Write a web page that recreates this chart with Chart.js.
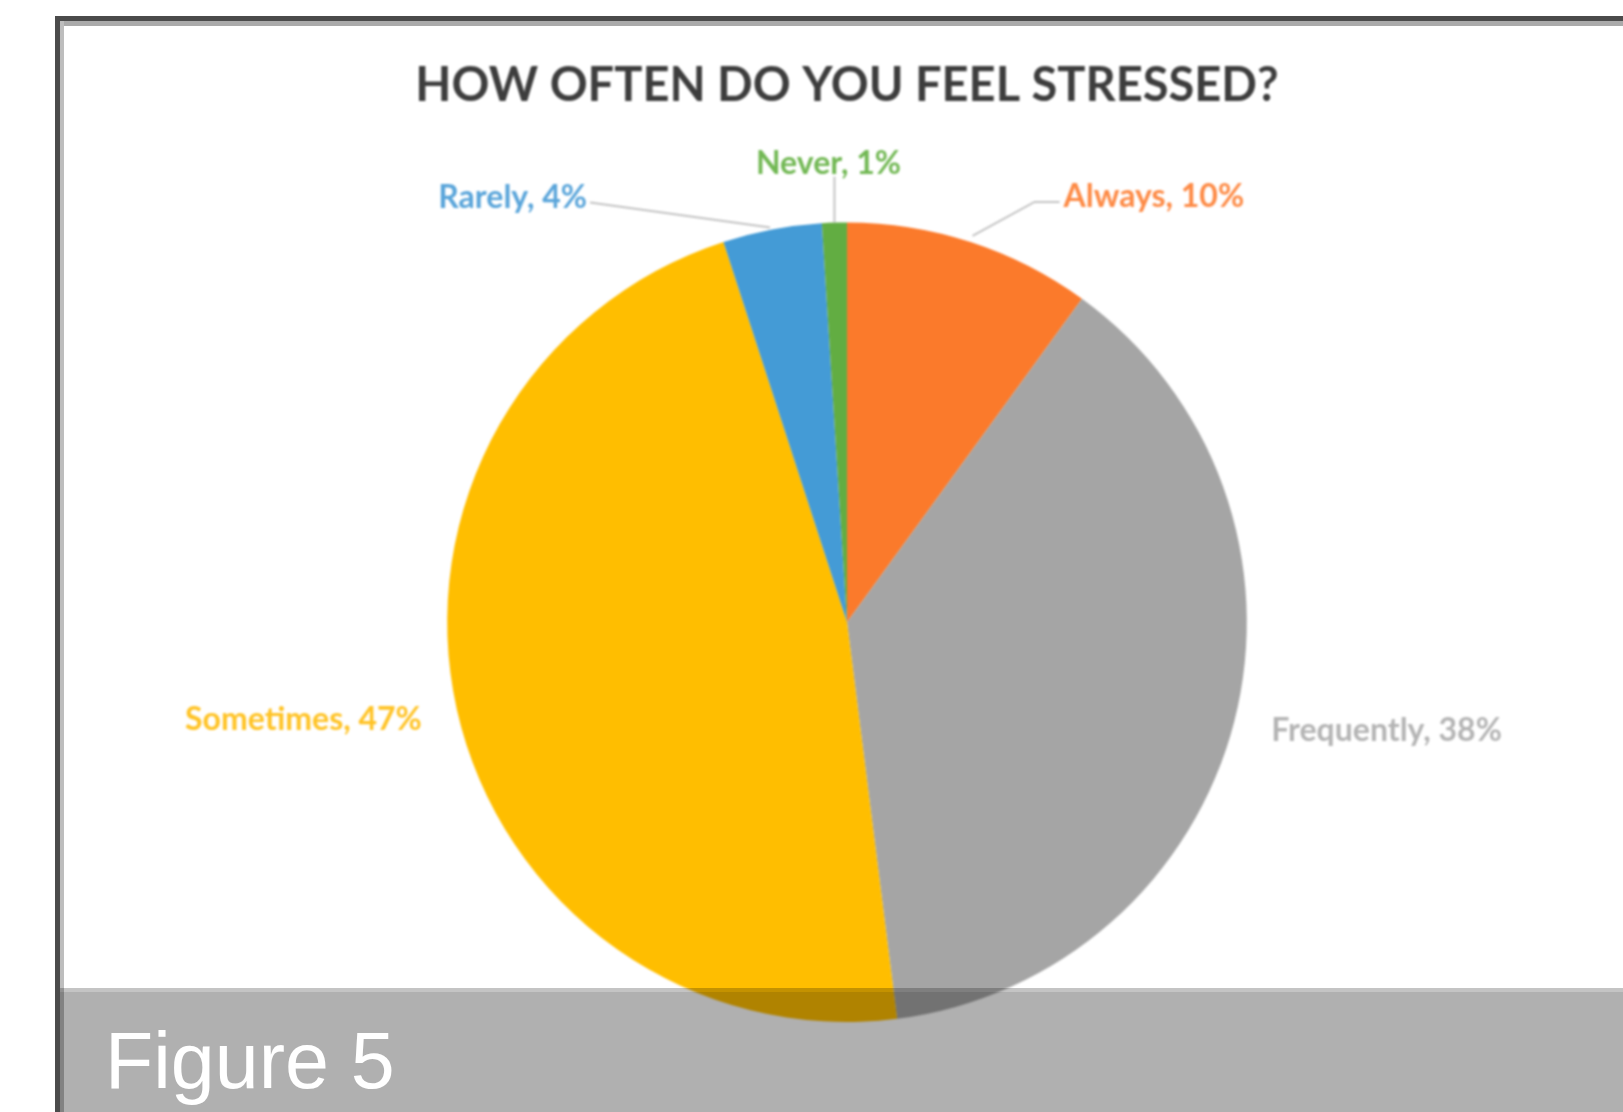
<!DOCTYPE html>
<html>
<head>
<meta charset="utf-8">
<script src="https://cdn.jsdelivr.net/npm/chart.js@4"></script>
<style>
  html, body { margin: 0; padding: 0; background: #fff; }
  #marco { position: absolute; left: 0; top: 0; width: 1623px; height: 1112px; overflow: hidden; background: #fff; }
  #lienzo { position: absolute; left: 0; top: 0; width: 1623px; height: 1112px; filter: blur(0.9px); }
  #bordeTop { position: absolute; left: 55px; top: 16px; right: 0; height: 5px; background: #4b4b4b; }
  #bordeTop2 { position: absolute; left: 60px; top: 21px; right: 0; height: 5px; background: #aaaaaa; }
  #bordeIzq { position: absolute; left: 55px; top: 16px; width: 5px; bottom: 0; background: #4b4b4b; }
  #bordeIzq2 { position: absolute; left: 60px; top: 21px; width: 4px; bottom: 0; background: #bdbdbd; }
  #banda { position: absolute; left: 60px; top: 988px; right: 0; bottom: 0; background: #b0b0b0; mix-blend-mode: multiply; border-top: 4px solid #c4c4c4; }
  #figura { position: absolute; left: 105px; top: 1011px; color: #fff; font-family: "Liberation Sans", Arial, sans-serif; font-size: 79px; line-height: 100px; filter: blur(0.5px); }
</style>
</head>
<body>
<div id="marco">
  <div id="lienzo"><canvas id="pieChart"></canvas></div>
  <div id="bordeTop2"></div>
  <div id="bordeIzq2"></div>
  <div id="bordeTop"></div>
  <div id="bordeIzq"></div>
  <div id="banda"></div>
  <div id="figura">Figure 5</div>
</div>
<script>
// Datos de la encuesta
const categorias = ['Always', 'Frequently', 'Sometimes', 'Rarely', 'Never'];
const porcentajes = [10, 38, 47, 4, 1];

const coloresSector = ['#fb7a2b', '#a5a5a5', '#ffbe00', '#449bd6', '#62ad42'];
const coloresTexto = ['#fd8a45', '#b4b4b4', '#ffc326', '#5aa5da', '#72b854'];

// Posición de cada etiqueta respecto al borde del sector (px)
const posiciones = [
  { dx: 93, dy: -45, align: 'left', guia: [[2, -6], [64, -40], [89, -40]] },
  { dx: 37, dy: 9, align: 'left', guia: null },
  { dx: -35, dy: 10, align: 'right', guia: null },
  { dx: -185, dy: -32, align: 'right', guia: [[-2, -2], [-182, -27]] },
  { dx: -6, dy: -59, align: 'center', guia: [[0, 0], [0, -46]] }
];

const etiquetasPlugin = {
  id: 'etiquetas',
  afterDatasetsDraw(chart) {
    const ctx = chart.ctx;
    const arcos = chart.getDatasetMeta(0).data;
    ctx.save();
    arcos.forEach((arco, i) => {
      const p = arco.getProps(['x', 'y', 'startAngle', 'endAngle', 'outerRadius'], true);
      const medio = (p.startAngle + p.endAngle) / 2;
      const bx = p.x + Math.cos(medio) * p.outerRadius;
      const by = p.y + Math.sin(medio) * p.outerRadius;
      const pos = posiciones[i];

      if (pos.guia) {
        ctx.strokeStyle = '#c3c3c3';
        ctx.lineWidth = 2;
        ctx.beginPath();
        pos.guia.forEach((pt, k) => {
          if (k === 0) ctx.moveTo(bx + pt[0], by + pt[1]);
          else ctx.lineTo(bx + pt[0], by + pt[1]);
        });
        ctx.stroke();
      }

      ctx.font = 'bold 32px Lato, "Open Sans", sans-serif';
      ctx.fillStyle = coloresTexto[i];
      ctx.textAlign = pos.align;
      ctx.textBaseline = 'middle';
      ctx.fillText(`${categorias[i]}, ${porcentajes[i]}%`, bx + pos.dx, by + pos.dy);
    });
    ctx.restore();
  }
};

const ctx = document.getElementById('pieChart').getContext('2d');
const grafico = new Chart(ctx, {
  type: 'pie',
  data: {
    labels: categorias,
    datasets: [{
      data: porcentajes,
      backgroundColor: coloresSector,
      borderWidth: 0
    }]
  },
  options: {
    responsive: true,
    maintainAspectRatio: false,
    animation: false,
    layout: { padding: { left: 71, right: 0, top: 0, bottom: 90 } },
    plugins: {
      legend: { display: false },
      tooltip: { enabled: false },
      title: {
        display: true,
        text: 'HOW OFTEN DO YOU FEEL STRESSED?',
        color: '#3d3d3d',
        font: { family: 'Lato, "Open Sans", sans-serif', size: 47, weight: 'bold' },
        padding: { top: 58, bottom: 108 }
      }
    }
  },
  plugins: [etiquetasPlugin]
});
</script>
</body>
</html>
